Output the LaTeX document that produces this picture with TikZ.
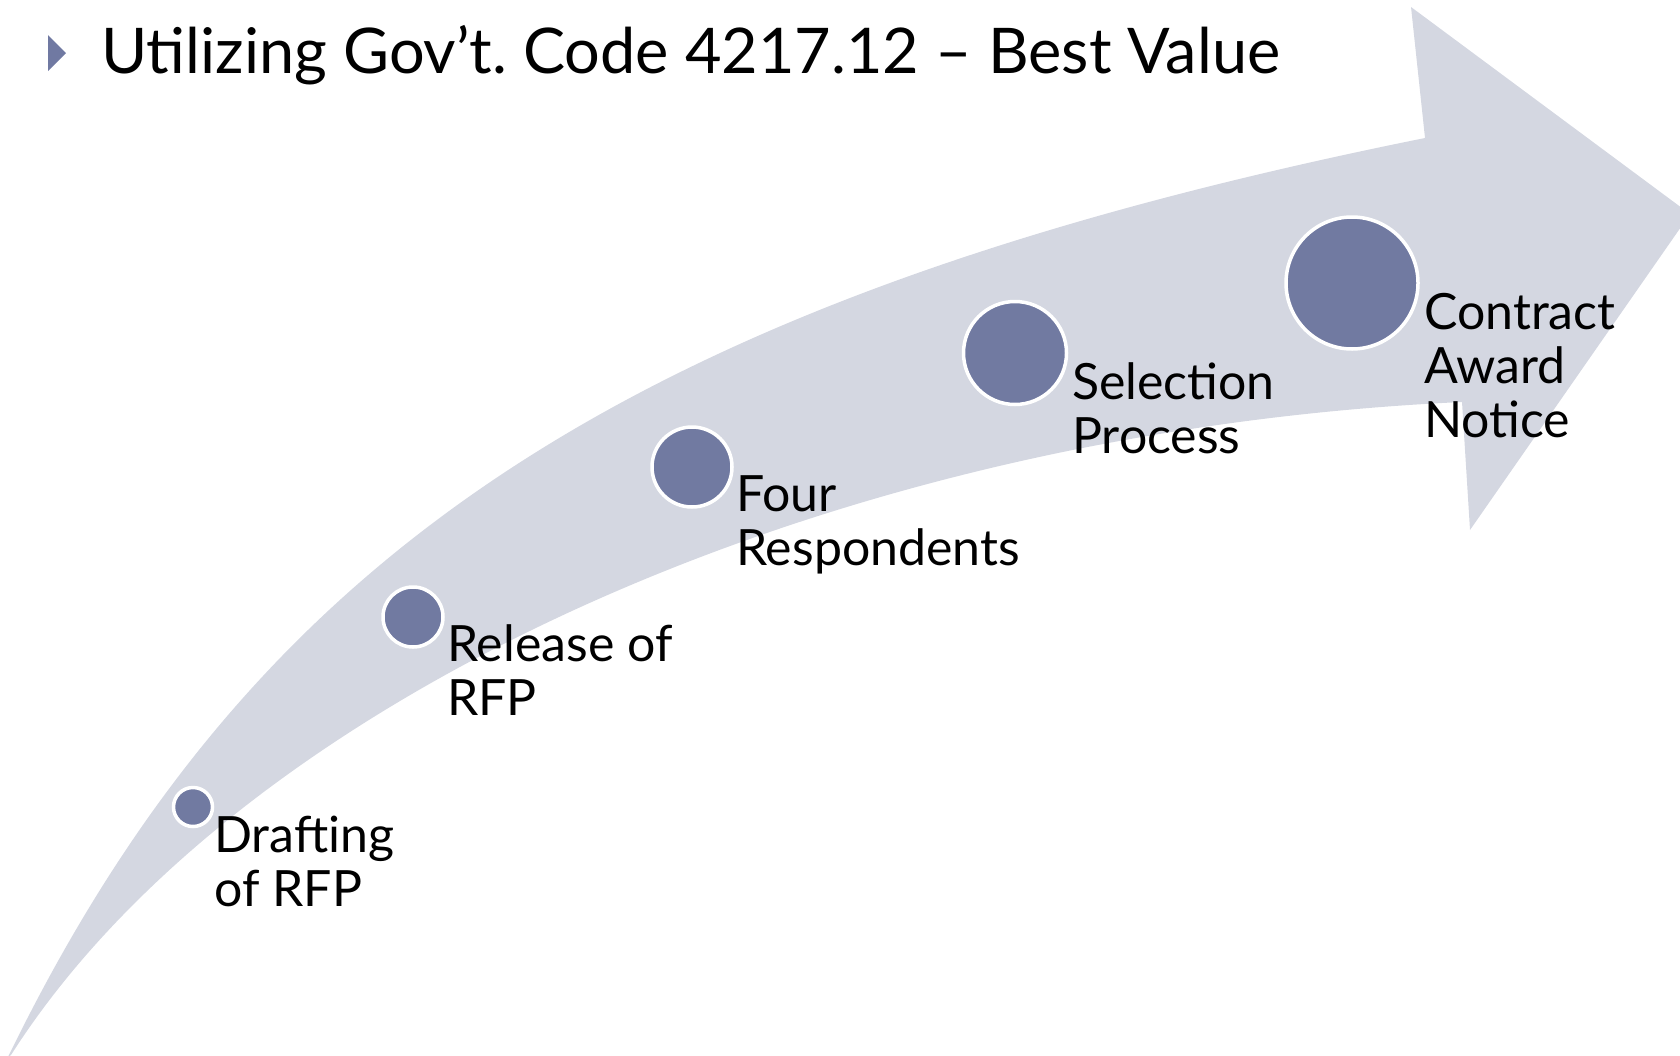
\documentclass[tikz,border=0pt]{standalone}
\usepackage{fontspec}
\setmainfont{Lato}
\frenchspacing
\definecolor{arrowc}{HTML}{D4D7E1}
\definecolor{dotc}{HTML}{717AA1}
\definecolor{bulletc}{HTML}{7079A2}
\tikzset{
  dot/.style={circle, fill=dotc, draw=white, line width=3.5pt, inner sep=0pt},
  lbl/.style={anchor=base west, align=left, inner sep=0pt, font=\fontsize{50}{54}\selectfont},
  ttl/.style={anchor=base west, inner sep=0pt, font=\fontsize{63}{70}\selectfont}
}
\begin{document}
\begin{tikzpicture}[x=1pt,y=-1pt]
\useasboundingbox (0,0) rectangle (1680,1055);
\clip (0,0) rectangle (1680,1055);
% big curved arrow
\fill[arrowc] (8,1057) .. controls (250,560) and (620,300) .. (1425,138)
  -- (1411,7) -- (1690,214) -- (1470,530) -- (1462,402)
  .. controls (810,432) and (232,708) .. (11,1055) -- cycle;
% title
\fill[bulletc] (48,35) -- (66,53) -- (48,71) -- cycle;
\node[ttl] (title) at (101,73) {Utilizing Gov’t. Code 4217.12 – Best Value};
% milestones
\node[dot, minimum size=39pt] (c1) at (193,807) {};
\node[dot, minimum size=60pt] (c2) at (413,617) {};
\node[dot, minimum size=80pt] (c3) at (692,467) {};
\node[dot, minimum size=103pt] (c4) at (1015,353) {};
\node[dot, minimum size=132pt] (c5) at (1352,283) {};
\node[lbl] (t1) at (214,906) {Drafting\\of RFP};
\node[lbl] (t2) at (447,715) {Release of\\RFP};
\node[lbl] (t3) at (736,565) {Four\\Respondents};
\node[lbl] (t4) at (1072,453) {Selection\\Process};
\node[lbl] (t5) at (1424,437) {Contract\\Award\\Notice};
\end{tikzpicture}
\end{document}
